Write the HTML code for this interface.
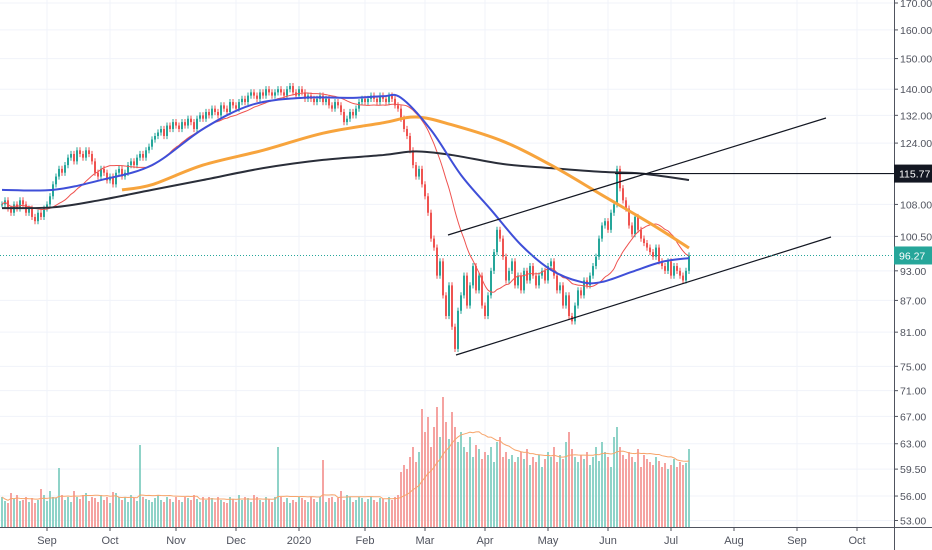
<!DOCTYPE html>
<html><head><meta charset="utf-8"><style>
html,body{margin:0;padding:0;background:#fff;}
svg{display:block;font-family:"Liberation Sans",sans-serif;}
</style></head><body>
<svg id="chart" width="932" height="550" viewBox="0 0 932 550"></svg>
<script>
const closes=[108,109,107,106,108,107,109,108,106,107,
105,104,106,105,107,108,110,113,115,117,
116,118,120,121,119,122,121,120,122,121,
119,116,115,117,116,114,115,113,116,117,
115,116,118,119,118,120,121,120,122,123,
125,126,127,128,126,129,128,130,129,128,
130,129,131,130,128,131,132,131,133,132,
134,133,132,135,134,133,136,135,134,136,
137,136,138,139,138,137,139,138,140,139,
138,139,140,139,138,140,141,139,138,140,
139,137,138,137,136,137,138,136,137,135,
134,136,135,133,130,131,133,132,134,136,
137,136,137,138,137,136,138,137,136,138,
137,135,134,131,128,126,122,118,115,117,
113,110,106,100,98,92,95,88,84,90,
82,78,85,88,92,86,90,94,89,92,
86,84,88,93,97,102,100,96,91,93,
95,90,92,89,93,91,94,92,90,92,
93,91,94,95,92,89,90,86,88,84,
83,86,89,88,91,90,92,94,96,100,
103,104,102,106,108,117,112,109,107,103,
101,105,102,100,99,98,97,96,98,95,
94,93,95,92,94,93,92,91,93,96.27];
const volumes=[30,26,24,34,28,32,26,27,30,25,
29,24,27,38,32,26,36,30,29,59,
32,27,30,25,36,30,28,32,34,26,
30,29,25,32,27,30,24,35,34,30,
27,30,25,32,29,26,82,30,28,27,
25,29,32,27,25,30,28,25,30,27,
25,30,29,27,32,28,25,30,27,30,
29,25,30,27,25,24,30,28,25,32,
27,30,29,25,32,30,27,25,30,28,
25,30,80,30,25,29,24,27,25,30,
29,27,25,30,28,25,30,67,25,29,
30,25,29,36,27,32,30,25,27,30,
29,25,28,30,27,25,29,28,25,30,
27,30,32,55,62,58,70,80,65,75,
118,95,110,80,100,120,90,130,105,88,
115,100,85,95,80,75,90,70,82,78,
68,75,72,80,65,85,90,70,75,68,
72,65,70,75,68,78,62,70,65,72,
60,68,75,70,80,65,72,68,85,95,
78,70,65,72,68,75,62,70,80,66,
85,75,70,60,90,100,80,72,68,75,
70,65,78,60,72,68,65,62,70,66,
60,64,58,62,68,60,65,62,64,78];
// sampled moving averages: [candle index, price]
const ma50Idx=[0,17,33,50,67,83,100,117,127,133,143,153,163,173,183,193,200,210,220,229];
const ma50Val=[111.6,111.6,114.1,118,128,135.1,137.3,137.3,137.8,137.3,127.7,115.4,106.7,98.6,93.2,90.7,90.7,92.8,94.9,95.7];
const ma100Idx=[40,50,67,87,107,127,138,150,167,183,200,217,229];
const ma100Val=[111.6,112.9,118,122,126.8,129.8,131.5,129.2,124.5,118,110.3,103.1,97.9];
const ma200Idx=[0,17,33,50,67,87,107,127,138,150,167,183,200,213,229];
const ma200Val=[107.1,107.3,109.1,111.6,114.1,117.2,119.4,120.7,121.7,120.7,118.3,117.2,116.2,115.8,114.1];
const priceTicks=[170,160,150,140,132,124,108,100.5,93,87,81,75,71,67,63,59.5,56,53];
const monthLabels=["Sep","Oct","Nov","Dec","2020","Feb","Mar","Apr","May","Jun","Jul","Aug","Sep","Oct"];
const monthIdx=[15,36,58,78,99,121,141,161,182,202,223,244,265,285];

const NS="http://www.w3.org/2000/svg";
const svg=document.getElementById('chart');
function mk(t,a,p){const e=document.createElementNS(NS,t);for(const k in a)e.setAttribute(k,a[k]);(p||svg).appendChild(e);return e;}
const X0=2,STEP=3,AXX=894,BASE=527;
const xAt=i=>X0+i*STEP;
const yP=p=>3+(Math.log(170)-Math.log(p))*444;
const yV=v=>BASE-v;
function smooth(pts){let d='M'+pts[0][0]+' '+pts[0][1];for(let k=0;k<pts.length-1;k++){const p0=pts[Math.max(0,k-1)],p1=pts[k],p2=pts[k+1],p3=pts[Math.min(pts.length-1,k+2)];const c1x=p1[0]+(p2[0]-p0[0])/6,c1y=p1[1]+(p2[1]-p0[1])/6,c2x=p2[0]-(p3[0]-p1[0])/6,c2y=p2[1]-(p3[1]-p1[1])/6;d+='C'+c1x+' '+c1y+' '+c2x+' '+c2y+' '+p2[0]+' '+p2[1];}return d;}

// grid
const grid=mk('g',{});


priceTicks.forEach(p=>{mk('line',{x1:0,x2:AXX,y1:yP(p),y2:yP(p),stroke:'#f0f3fa','stroke-width':1},grid);});
monthIdx.forEach(i=>{mk('line',{x1:xAt(i),x2:xAt(i),y1:0,y2:BASE,stroke:'#f0f3fa','stroke-width':1},grid);});

// volume
const vg=mk('g',{});


volumes.forEach((v,i)=>{
 const up=i===0||closes[i]>=closes[i-1];
 const r=mk('rect',{x:xAt(i)-1,y:yV(v),width:2,height:v,fill:up?'#8fd3c8':'#f5a3a1'},vg);
 
 
});
let vp='';
volumes.forEach((v,i)=>{const s=volumes.slice(Math.max(0,i-19),i+1);const a=s.reduce((q,w)=>q+w,0)/s.length;vp+=(i?'L':'M')+xAt(i)+' '+yV(a);});
const vma=mk('path',{d:vp,fill:'none',stroke:'#f7a56b','stroke-width':1});



// candles
const cg=mk('g',{});


closes.forEach((c,i)=>{
 const o=i?closes[i-1]:c;const up=c>=o;const col=up?'#26a69a':'#ef5350';
 const hi=Math.max(o,c)*1.007,lo=Math.min(o,c)*0.993;
 const g=mk('g',{},cg);
 
 
 mk('line',{x1:xAt(i),x2:xAt(i),y1:yP(hi),y2:yP(lo),stroke:col,'stroke-width':1},g);
 const yt=yP(Math.max(o,c)),yb=yP(Math.min(o,c));
 mk('rect',{x:xAt(i)-1,y:yt,width:2,height:Math.max(1,yb-yt),fill:col},g);
});

// moving averages
function line(idx,val,col,w,name){const pts=idx.map((i,k)=>[xAt(i),yP(val[k])]);const e=mk('path',{d:smooth(pts),fill:'none',stroke:col,'stroke-width':w,'stroke-linejoin':'round'});}
let rpts=[];closes.forEach((c,i)=>{const s=closes.slice(Math.max(0,i-19),i+1);const a=s.reduce((q,w)=>q+w,0)/s.length;rpts.push([xAt(i),yP(a)]);});
const rma=mk('path',{d:smooth(rpts),fill:'none',stroke:'#ef5350','stroke-width':1});


line(ma200Idx,ma200Val,'#2a2e39',2,'ma200-line');
line(ma100Idx,ma100Val,'#f7a43d',3,'ma100-line');
line(ma50Idx,ma50Val,'#3f4fd8',2,'ma50-line');

// drawings
const dg=mk('g',{stroke:'#131722','stroke-width':1.2});


mk('line',{x1:448,y1:235,x2:826,y2:118},dg);
mk('line',{x1:456,y1:355,x2:831,y2:237},dg);
mk('line',{x1:615,y1:yP(115.77),x2:AXX,y2:yP(115.77)},dg);
const cur=mk('line',{x1:0,x2:AXX,y1:yP(96.27),y2:yP(96.27),stroke:'#26a69a','stroke-width':1,'stroke-dasharray':'1 2'});



// axes
mk('rect',{x:AXX,y:0,width:38,height:550,fill:'#fff'});
mk('rect',{x:0,y:BASE,width:932,height:23,fill:'#fff'});
mk('line',{x1:AXX+0.5,x2:AXX+0.5,y1:0,y2:550,stroke:'#50535e','stroke-width':1});
mk('line',{x1:0,x2:932,y1:BASE+0.5,y2:BASE+0.5,stroke:'#50535e','stroke-width':1});
const ya=mk('g',{});


priceTicks.forEach(p=>{const y=yP(p);mk('line',{x1:AXX,x2:AXX+4,y1:y,y2:y,stroke:'#50535e'},ya);const t=mk('text',{x:900,y:y+4,'font-size':10.5,fill:'#50535e'},ya);t.textContent=p.toFixed(2);});
function badge(p,bg,name){const y=yP(p);const g=mk('g',{});mk('rect',{x:AXX,y:y-9,width:38,height:18,fill:bg},g);const t=mk('text',{x:899,y:y+4,'font-size':10.5,fill:'#fff'},g);t.textContent=p.toFixed(2);}
badge(115.77,'#131722','resistance-price-badge');
badge(96.27,'#26a69a','last-price-badge');
const xa=mk('g',{});


monthLabels.forEach((m,k)=>{const x=xAt(monthIdx[k]);mk('line',{x1:x,x2:x,y1:BASE,y2:BASE+4,stroke:'#50535e'},xa);const t=mk('text',{x:x,y:544,'font-size':11,fill:'#50535e','text-anchor':'middle'},xa);t.textContent=m;});
</script>
</body></html>
